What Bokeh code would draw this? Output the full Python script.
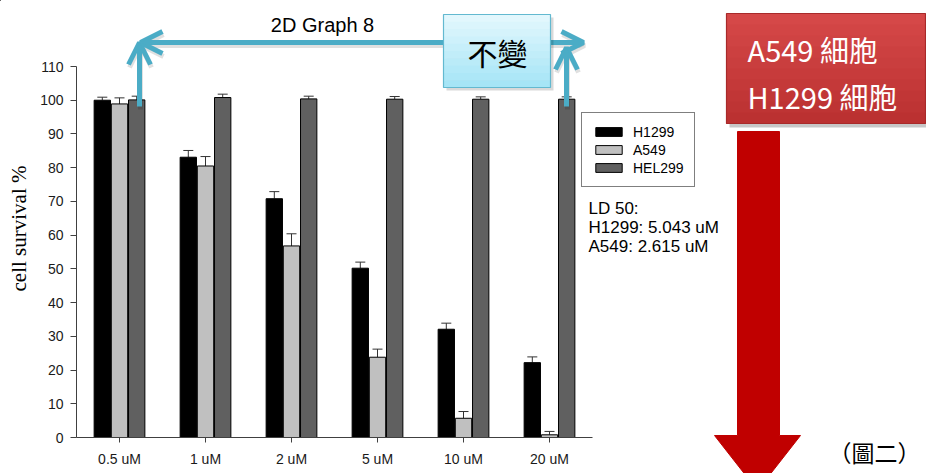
import math
from bokeh.plotting import figure
from bokeh.models import (ColumnDataSource, FactorRange, Range1d, FixedTicker, Whisker, TeeHead, GridBox, Column,
                          Legend, LegendItem, Label, Arrow, OpenHead)
from bokeh.transform import dodge
from bokeh.embed import file_html
from bokeh.resources import INLINE

# ---------------- data ----------------
categories = ["0.5 uM", "1 uM", "2 uM", "5 uM", "10 uM", "20 uM"]
series_names = ["H1299", "A549", "HEL299"]
h1299 = [100.0, 83.1, 70.8, 50.2, 32.1, 22.2]
h1299_err = [0.9, 2.0, 2.1, 1.8, 1.8, 1.7]
a549 = [98.9, 80.5, 56.8, 23.8, 5.7, 0.8]
a549_err = [1.8, 2.8, 3.6, 2.4, 2.0, 1.0]
hel299 = [100.1, 100.8, 100.4, 100.3, 100.3, 100.3]
hel299_err = [1.1, 1.0, 0.8, 0.8, 0.7, 0.7]
y_ticks = list(range(0, 111, 10))
ld50_lines = ["LD 50:", "H1299: 5.043 uM", "A549: 2.615 uM"]
title_text = "2D Graph 8"
y_label_text = "cell survival %"
box_text = "不變"
red_lines = ["A549 細胞", "H1299 細胞"]
fig_caption = "（圖二）"
bar_colors = ["#000000", "#c0c0c0", "#606060"]

W, H = 926, 473

# ---------------- chart figure ----------------
p = figure(width=W, height=H, x_range=FactorRange(*categories), y_range=Range1d(0, 110),
           output_backend="svg", toolbar_location=None,
           min_border_left=76, min_border_right=W - 592, min_border_top=66, min_border_bottom=H - 437)
p.outline_line_color = None
p.xgrid.grid_line_color = None
p.ygrid.grid_line_color = None
p.background_fill_color = "white"
p.border_fill_color = "white"

src = ColumnDataSource(dict(
    cat=categories,
    h=h1299, h_up=[v + e for v, e in zip(h1299, h1299_err)],
    a=a549, a_up=[v + e for v, e in zip(a549, a549_err)],
    e=hel299, e_up=[v + e for v, e in zip(hel299, hel299_err)],
))

offsets = [-0.2, 0.0, 0.2]
cols = [("h", "h_up"), ("a", "a_up"), ("e", "e_up")]
for name, col, off, (vc, uc) in zip(series_names, bar_colors, offsets, cols):
    p.vbar(x=dodge("cat", off, range=p.x_range), top=vc, width=0.19, source=src,
           fill_color=col, line_color="black", line_width=1)
    p.add_layout(Whisker(base=dodge("cat", off, range=p.x_range), upper=uc, lower=vc, source=src,
                         dimension="height", line_color="#333333", line_width=1,
                         upper_head=TeeHead(size=10, line_color="#333333", line_width=1), lower_head=None))

ax = p.xaxis[0]
ay = p.yaxis[0]
for a in (ax, ay):
    a.axis_line_color = "#404040"
    a.major_tick_line_color = "#404040"
    a.minor_tick_line_color = None
    a.major_tick_in = 0
    a.major_label_text_font = "Liberation Sans"
    a.major_label_text_font_size = "14px"
    a.major_label_text_color = "#1a1a1a"
ay.ticker = FixedTicker(ticks=y_ticks)
ay.major_tick_out = 6
ay.major_label_standoff = 7
ax.major_tick_out = 5
ax.major_label_standoff = 8

# ---------------- overlay figure (page pixel coordinates, y down) ----------------
q = figure(width=W, height=H, x_range=Range1d(0, W), y_range=Range1d(H, 0),
           x_axis_type=None, y_axis_type=None, output_backend="svg", toolbar_location=None,
           min_border=0)
q.outline_line_color = None
q.xgrid.grid_line_color = None
q.ygrid.grid_line_color = None
q.background_fill_alpha = 0
q.border_fill_alpha = 0

CYAN = "#4bacc6"

def add_arrow(x0, y0, x1, y1, both=False, color=CYAN, alpha=1.0, dx=0, dy=0):
    head = lambda: OpenHead(size=22, line_color=color, line_width=5, line_alpha=alpha)
    q.add_layout(Arrow(x_start=x0 + dx, y_start=y0 + dy, x_end=x1 + dx, y_end=y1 + dy,
                       end=head(), start=head() if both else None, level="underlay",
                       line_color=color, line_width=5, line_alpha=alpha))

def lerp_hex(c0, c1, t):
    a = [int(c0[i:i + 2], 16) for i in (1, 3, 5)]
    b = [int(c1[i:i + 2], 16) for i in (1, 3, 5)]
    return "#" + "".join("%02x" % round(x + (y - x) * t) for x, y in zip(a, b))

def gradient_box(l, r, t, b, c_top, c_bot, edge, n=10):
    h = (b - t) / n
    q.quad(left=[l] * n, right=[r] * n, top=[t + i * h for i in range(n)],
           bottom=[t + (i + 1) * h + 0.5 for i in range(n)],
           fill_color=[lerp_hex(c_top, c_bot, i / (n - 1)) for i in range(n)], line_color=None)
    q.quad(left=[l], right=[r], top=[t], bottom=[b], fill_color=None, line_color=edge, line_width=1.2)

def add_label(x, y, text, font, size, color="black", align="left", angle=0.0):
    q.add_layout(Label(x=x, y=y, text=text, text_font=font, text_font_size=size, text_color=color,
                       text_align=align, text_baseline="middle", angle=angle))

# cyan arrows (with soft shadow)
arrows = [(583, 42, 140, 42, True), (139, 106, 139, 42, False), (566, 106, 566, 47, False)]
for args in arrows:
    add_arrow(*args, color="#000000", alpha=0.12, dx=1, dy=3)
for args in arrows:
    add_arrow(*args)

# cyan box
q.quad(left=[446], right=[553], top=[17], bottom=[90], fill_color="#000000", fill_alpha=0.15, line_color=None)
gradient_box(443, 550, 14, 87, "#e2f7fd", "#a6e5f6", "#63b9d0")
add_label(497, 51, box_text, "Noto Sans CJK TC", "30px", align="center")

# red box
q.quad(left=[729], right=[930], top=[16], bottom=[127], fill_color="#000000", fill_alpha=0.22, line_color=None)
gradient_box(726, 925, 13, 123, "#d54848", "#bb3131", "#a82a2a")
add_label(747, 48, red_lines[0], "Noto Sans CJK TC", "29px", color="white")
add_label(747, 95, red_lines[1], "Noto Sans CJK TC", "29px", color="white")

# red down arrow
q.patch(x=[737, 779, 779, 800, 757, 714, 737], y=[131, 131, 435, 435, 490, 435, 435],
        fill_color="#c00000", line_color="#c00000", line_width=1)

# texts
add_label(322, 24, title_text, "Liberation Sans", "20px", align="center")
add_label(18, 228, y_label_text, "Liberation Serif", "21px", align="center", angle=math.pi / 2)
for i, t in enumerate(ld50_lines):
    add_label(588, 208 + i * 19, t, "Liberation Sans", "17px")
add_label(828, 451, fig_caption, "Noto Sans CJK TC", "23px")

# legend (swatches share the bar colours; their single point lies off-canvas)
swatches = [q.vbar(x=[-500], top=[-500], bottom=[-501], width=1, fill_color=c, line_color="black", line_width=1)
            for c in bar_colors]
legend = Legend(items=[LegendItem(label=n, renderers=[r]) for n, r in zip(series_names, swatches)],
                location=(581, H - 187), orientation="vertical",
                border_line_color="black", border_line_width=1, background_fill_color="white",
                background_fill_alpha=1, padding=10, margin=0, spacing=1,
                glyph_width=33, glyph_height=11, label_standoff=8, label_height=17,
                label_text_font="Liberation Sans", label_text_font_size="14px", label_text_color="black")
q.add_layout(legend)

layout = GridBox(children=[(Column(children=[p]), 0, 0), (Column(children=[q]), 0, 0)])
open("out.html", "w").write(file_html(layout, INLINE))
